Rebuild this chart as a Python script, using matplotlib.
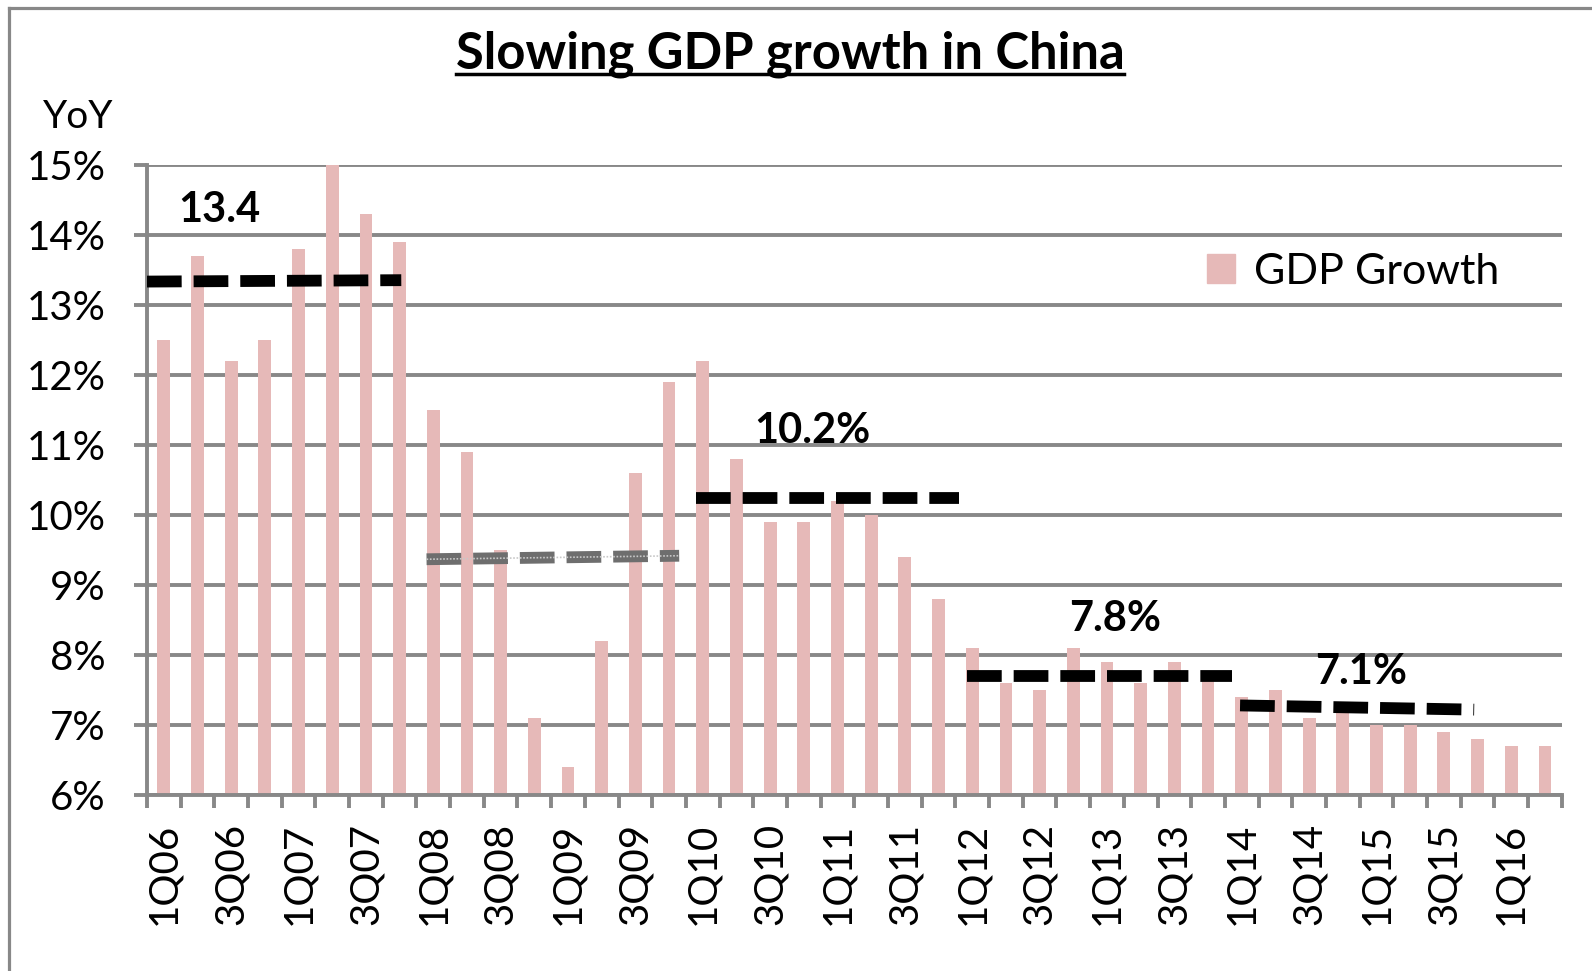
import matplotlib
matplotlib.use("Agg")
import matplotlib.pyplot as plt
from matplotlib.lines import Line2D
from matplotlib.patches import Patch
from matplotlib.ticker import FixedLocator, FuncFormatter

plt.rcParams['font.family'] = ['Lato', 'DejaVu Sans']
plt.rcParams['lines.scale_dashes'] = False

# quarterly YoY GDP growth, 1Q06 .. 2Q16
quarters = [f"{q}Q{y:02d}" for y in range(6, 17) for q in range(1, 5)][:42]
gdp_growth = [12.5, 13.7, 12.2, 12.5, 13.8, 15.0, 14.3, 13.9,
              11.5, 10.9, 9.5, 7.1, 6.4, 8.2, 10.6, 11.9,
              12.2, 10.8, 9.9, 9.9, 10.2, 10.0, 9.4, 8.8,
              8.1, 7.6, 7.5, 8.1, 7.9, 7.6, 7.9, 7.7,
              7.4, 7.5, 7.1, 7.2, 7.0, 7.0, 6.9, 6.8,
              6.7, 6.7]

# period averages (dashed lines), spans in quarter index
avg_start = [-0.5, 7.8, 15.8, 23.85, 31.95]
avg_end = [7.05, 15.3, 23.6, 31.7, 38.9]
avg_left = [13.34, 9.37, 10.24, 7.70, 7.28]
avg_right = [13.36, 9.42, 10.24, 7.70, 7.22]
avg_colors = ['black', '#6e6e6e', 'black', 'black', 'black']

# annotation texts
note_text = ["13.4", "10.2%", "7.8%", "7.1%"]
note_x = [1.64, 19.25, 28.23, 35.53]
note_y = [14.36, 11.2, 8.51, 7.76]

bar_color = '#E6B9B8'
grid_color = '#888888'

fig = plt.figure(figsize=(15.92, 9.71), dpi=100)
ax = fig.add_axes([0.0923, 0.1813, 0.8887, 0.6483])

x = range(len(quarters))
ax.bar(x, gdp_growth, width=0.38, color=bar_color, zorder=2)

for s, e, l, r, c in zip(avg_start, avg_end, avg_left, avg_right, avg_colors):
    ax.plot([s, e], [l, r], color=c, lw=8.5, dashes=(25, 8.6),
            solid_capstyle='butt', dash_capstyle='butt', zorder=3)
    if c != 'black':
        # checkered look of the grey line
        ax.plot([s, e], [l, r], color='#c8c8c8', lw=1.2, dashes=(1.2, 1.2), zorder=3.5)

for t, tx, ty in zip(note_text, note_x, note_y):
    ax.text(tx, ty, t, fontsize=30, fontweight='bold', ha='center', va='center', zorder=4)

ax.set_xlim(-0.5, len(quarters) - 0.5)
ax.set_ylim(6, 15)

# y axis
ax.set_yticks(range(6, 16))
ax.yaxis.set_major_formatter(FuncFormatter(lambda v, p: f"{v:.0f}%"))
ax.grid(axis='y', color=grid_color, lw=2.8, zorder=1)
ax.set_axisbelow(True)

# x axis: ticks at boundaries, labels on every other bar
ax.xaxis.set_major_locator(FixedLocator([i - 0.5 for i in range(len(quarters) + 1)]))
ax.xaxis.set_major_formatter(FuncFormatter(lambda v, p: ""))
ax.xaxis.set_minor_locator(FixedLocator(list(range(0, len(quarters), 2))))
ax.set_xticklabels(quarters[::2], minor=True, rotation=90)
ax.tick_params(axis='x', which='major', length=9.5, width=2.8, color=grid_color, direction='out')
ax.tick_params(axis='x', which='minor', length=0, pad=20, labelsize=29)
ax.tick_params(axis='y', length=9.5, width=2.8, color=grid_color, pad=20, labelsize=29)

for side in ['top', 'right']:
    ax.spines[side].set_visible(False)
for side in ['left', 'bottom']:
    ax.spines[side].set_color(grid_color)
    ax.spines[side].set_linewidth(2.8)

leg = ax.legend(handles=[Patch(color=bar_color, label='GDP Growth')],
                loc='center right', bbox_to_anchor=(0.956, 0.831), frameon=False,
                fontsize=31, handlelength=0.65, handleheight=0.65,
                handletextpad=0.45, borderpad=0, borderaxespad=0)

fig.text(0.027, 0.879, "YoY", fontsize=28, ha='left', va='center')

title = fig.text(0.4962, 0.929, "Slowing GDP growth in China", fontsize=36.5,
                 fontweight='bold', ha='center', va='baseline')

# underline the title
fig.canvas.draw()
bb = title.get_window_extent().transformed(fig.transFigure.inverted())
fig.add_artist(Line2D([bb.x0, bb.x1], [0.9235, 0.9235], color='black', lw=2.5,
                      transform=fig.transFigure))

# outer frame (left and top edges)
fig.add_artist(Line2D([0.0055, 0.0055], [0, 0.9915], color=grid_color, lw=2.3,
                      transform=fig.transFigure))
fig.add_artist(Line2D([0.0055, 1], [0.9915, 0.9915], color=grid_color, lw=2.3,
                      transform=fig.transFigure))

fig.savefig("out.png", dpi=100)
